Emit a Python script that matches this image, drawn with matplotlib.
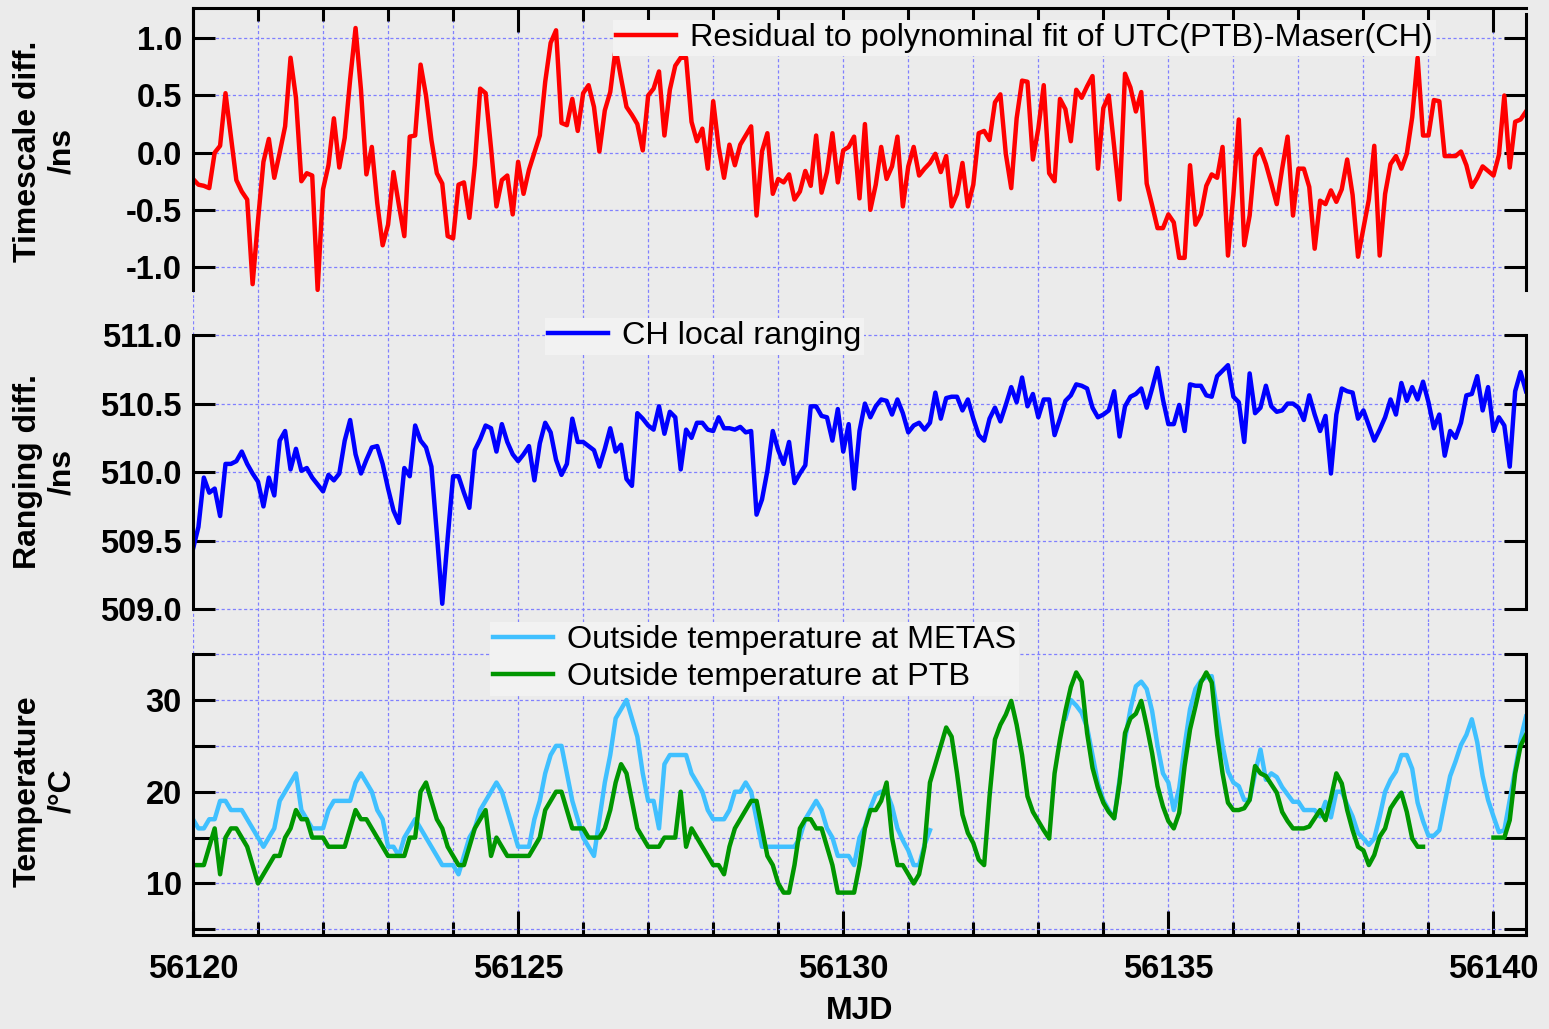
import numpy as np
import matplotlib
matplotlib.use("Agg")
import matplotlib.pyplot as plt
from matplotlib.ticker import MultipleLocator, FixedLocator, FuncFormatter

plt.rcParams['font.family'] = ['Liberation Sans', 'DejaVu Sans']
plt.rcParams['axes.unicode_minus'] = False

nan = np.nan

# ---------------- data (2-hourly samples starting at MJD 56120.0) ----------------
mjd_start = 56120.0
step_hours = 2.0

residual = [
    -0.23, -0.28, -0.29, -0.31, 0.00, 0.06, 0.52, 0.14, -0.24, -0.34,
    -0.41, -1.15, -0.59, -0.08, 0.12, -0.22, 0.00, 0.23, 0.83, 0.48,
    -0.25, -0.18, -0.20, -1.20, -0.32, -0.11, 0.30, -0.13, 0.13, 0.64,
    1.09, 0.55, -0.19, 0.05, -0.44, -0.81, -0.63, -0.17, -0.46, -0.73,
    0.14, 0.15, 0.77, 0.50, 0.11, -0.18, -0.27, -0.73, -0.75, -0.28,
    -0.26, -0.57, -0.11, 0.56, 0.52, 0.04, -0.47, -0.24, -0.20, -0.54,
    -0.08, -0.36, -0.15, 0.00, 0.15, 0.62, 0.96, 1.07, 0.26, 0.24,
    0.47, 0.19, 0.52, 0.59, 0.40, 0.01, 0.37, 0.53, 0.91, 0.65,
    0.40, 0.33, 0.25, 0.02, 0.50, 0.56, 0.71, 0.15, 0.55, 0.76,
    0.83, 0.83, 0.27, 0.10, 0.21, -0.14, 0.45, 0.05, -0.22, 0.07,
    -0.11, 0.07, 0.15, 0.23, -0.55, 0.01, 0.17, -0.36, -0.23, -0.26,
    -0.19, -0.41, -0.34, -0.16, -0.29, 0.15, -0.35, -0.17, 0.17, -0.26,
    0.02, 0.05, 0.14, -0.40, 0.25, -0.50, -0.28, 0.05, -0.23, -0.12,
    0.14, -0.47, -0.12, 0.05, -0.20, -0.14, -0.09, -0.01, -0.17, -0.03,
    -0.47, -0.36, -0.09, -0.47, -0.28, 0.17, 0.19, 0.11, 0.44, 0.51,
    -0.01, -0.31, 0.30, 0.63, 0.62, -0.06, 0.21, 0.59, -0.18, -0.25,
    0.47, 0.38, 0.10, 0.55, 0.48, 0.58, 0.67, -0.14, 0.39, 0.50,
    0.05, -0.41, 0.69, 0.57, 0.36, 0.53, -0.27, -0.46, -0.66, -0.66,
    -0.54, -0.61, -0.92, -0.92, -0.11, -0.63, -0.54, -0.29, -0.19, -0.22,
    0.05, -0.90, -0.37, 0.29, -0.81, -0.55, -0.03, 0.03, -0.10, -0.27,
    -0.45, -0.14, 0.14, -0.55, -0.14, -0.14, -0.30, -0.84, -0.42, -0.45,
    -0.33, -0.43, -0.32, -0.06, -0.37, -0.91, -0.66, -0.41, 0.06, -0.90,
    -0.36, -0.10, -0.03, -0.14, -0.01, 0.31, 0.83, 0.15, 0.15, 0.46,
    0.45, -0.03, -0.03, -0.03, 0.01, -0.11, -0.30, -0.22, -0.12, -0.16,
    -0.20, -0.02, 0.50, -0.13, 0.27, 0.29, 0.36,
]

ranging = [
    509.44, 509.60, 509.96, 509.85, 509.88, 509.68, 510.06, 510.06, 510.08, 510.15,
    510.06, 509.99, 509.93, 509.75, 509.96, 509.83, 510.23, 510.30, 510.02, 510.17,
    510.01, 510.03, 509.96, 509.91, 509.86, 509.98, 509.94, 509.99, 510.23, 510.38,
    510.13, 509.99, 510.09, 510.18, 510.19, 510.06, 509.88, 509.72, 509.63, 510.03,
    509.97, 510.34, 510.23, 510.18, 510.04, 509.55, 509.04, 509.52, 509.97, 509.97,
    509.85, 509.74, 510.16, 510.24, 510.34, 510.32, 510.15, 510.35, 510.22, 510.13,
    510.08, 510.13, 510.19, 509.94, 510.21, 510.36, 510.29, 510.09, 509.98, 510.06,
    510.39, 510.22, 510.22, 510.19, 510.16, 510.04, 510.17, 510.32, 510.15, 510.20,
    509.95, 509.90, 510.43, 510.39, 510.34, 510.31, 510.48, 510.28, 510.44, 510.40,
    510.02, 510.31, 510.25, 510.36, 510.36, 510.31, 510.30, 510.40, 510.32, 510.32,
    510.31, 510.33, 510.29, 510.30, 509.69, 509.80, 510.01, 510.30, 510.16, 510.06,
    510.22, 509.92, 509.99, 510.05, 510.48, 510.48, 510.41, 510.40, 510.23, 510.46,
    510.15, 510.35, 509.88, 510.30, 510.50, 510.40, 510.48, 510.53, 510.52, 510.42,
    510.53, 510.43, 510.29, 510.34, 510.36, 510.31, 510.36, 510.58, 510.39, 510.54,
    510.55, 510.55, 510.45, 510.53, 510.39, 510.27, 510.23, 510.39, 510.47, 510.37,
    510.49, 510.62, 510.51, 510.69, 510.48, 510.57, 510.40, 510.53, 510.53, 510.27,
    510.39, 510.52, 510.56, 510.64, 510.63, 510.61, 510.47, 510.40, 510.42, 510.45,
    510.59, 510.26, 510.48, 510.55, 510.57, 510.61, 510.47, 510.61, 510.76, 510.53,
    510.35, 510.35, 510.49, 510.30, 510.64, 510.63, 510.63, 510.56, 510.55, 510.70,
    510.74, 510.78, 510.55, 510.51, 510.22, 510.72, 510.43, 510.47, 510.63, 510.48,
    510.44, 510.45, 510.50, 510.50, 510.47, 510.38, 510.56, 510.42, 510.30, 510.41,
    509.99, 510.42, 510.61, 510.59, 510.58, 510.39, 510.45, 510.34, 510.23, 510.31,
    510.40, 510.53, 510.42, 510.65, 510.52, 510.62, 510.53, 510.66, 510.51, 510.32,
    510.42, 510.12, 510.30, 510.25, 510.36, 510.56, 510.57, 510.70, 510.45, 510.62,
    510.30, 510.40, 510.34, 510.04, 510.59, 510.73, 510.59,
]

temp_metas = [
    17, 16, 16, 17, 17, 19, 19, 18, 18, 18,
    17, 16, 15, 14, 15, 16, 19, 20, 21, 22,
    18, 17, 16, 16, 16, 18, 19, 19, 19, 19,
    21, 22, 21, 20, 18, 17, 14, 14, 13, 15,
    16, 17, 16, 15, 14, 13, 12, 12, 12, 11,
    13, 15, 16, 18, 19, 20, 21, 20, 18, 16,
    14, 14, 14, 17, 19, 22, 24, 25, 25, 22,
    19, 17, 15, 14, 13, 17, 21, 24, 28, 29,
    30, 28, 26, 22, 19, 19, 16, 23, 24, 24,
    24, 24, 22, 21, 20, 18, 17, 17, 17, 18,
    20, 20, 21, 20, 17, 14, 14, 14, 14, 14,
    14, 14, 15, 17, 18, 19, 18, 16, 15, 13,
    13, 13, 12, 15, 16.2, 18.2, 19.7, 20, 20, 18.4,
    16, 14.7, 13.6, 12, 12, 14.2, 15.8, nan, nan, nan,
    nan, nan, nan, nan, nan, nan, nan, nan, nan, nan,
    nan, nan, nan, nan, nan, nan, nan, nan, nan, nan,
    nan, 28, 30, 29.4, 28.6, 27, 24, 20.9, 19.1, 18,
    17.1, 21.4, 25.7, 29, 31.5, 32, 31.2, 28.8, 25, 22,
    21, 18, 20.4, 25, 29, 31.2, 32.1, 32.5, 32.6, 28.8,
    25, 22.2, 21, 20.6, 19.1, 19.1, 22, 24.6, 21.3, 22,
    21.6, 20.5, 19.7, 18.9, 18.9, 18, 18, 18, 17.3, 18.9,
    17.2, 20, 20, 18.6, 17.3, 15.5, 14.9, 14.2, 14.9, 17.3,
    20, 21.3, 22.2, 24, 24, 22.5, 18.8, 16.8, 15.2, 15.2,
    15.8, 18.8, 21.7, 23.3, 25.1, 26.2, 27.9, 25.4, 21.7, 19.1,
    17.3, 15.6, 15.8, 19.1, 22.4, 25.7, 28.2,
]

temp_ptb = [
    12, 12, 12, 14, 16, 11, 15, 16, 16, 15,
    14, 12, 10, 11, 12, 13, 13, 15, 16, 18,
    17, 17, 15, 15, 15, 14, 14, 14, 14, 16,
    18, 17, 17, 16, 15, 14, 13, 13, 13, 13,
    15, 15, 20, 21, 19, 17, 16, 14, 13, 12,
    12, 14, 16, 17, 18, 13, 15, 14, 13, 13,
    13, 13, 13, 14, 15, 18, 19, 20, 20, 18,
    16, 16, 16, 15, 15, 15, 16, 18, 21, 23,
    22, 19, 16, 15, 14, 14, 14, 15, 15, 15,
    20, 14, 16, 15, 14, 13, 12, 12, 11, 14,
    16, 17, 18, 19, 19, 16, 13, 12, 10, 9,
    9, 12, 16, 17, 17, 16, 16, 14, 12, 9,
    9, 9, 9, 12, 16, 18, 18, 19, 21, 15,
    12, 12, 11, 10, 11, 14, 21, 23, 25, 27,
    26, 22, 17.5, 15.5, 14.4, 12.6, 12, 19.5, 25.7, 27.3,
    28.4, 29.9, 27.3, 24, 19.5, 17.8, 16.8, 15.8, 14.9, 22,
    25.7, 28.8, 31.4, 33, 32, 26.4, 22.6, 20.4, 18.8, 17.8,
    17.1, 21, 26.4, 28, 28.5, 29.9, 27.2, 24.2, 20.6, 18.4,
    16.8, 16, 17.7, 22.8, 26.8, 29.3, 31.9, 33, 31.9, 26.2,
    22, 18.8, 18, 18, 18.2, 19.1, 22.8, 22, 21.7, 20.8,
    19.9, 17.8, 16.8, 16, 16, 16, 16.2, 17.1, 18, 16.9,
    19.3, 22, 20.9, 18, 15.8, 14, 13.6, 12, 13.1, 15.1,
    16, 18.2, 19.1, 19.9, 17.8, 14.9, 14, 14, nan, nan,
    nan, nan, nan, nan, nan, nan, nan, nan, nan, nan,
    15, 15, 15, 16.9, 22, 25, 26.2,
]

label_res = "Residual to polynominal fit of UTC(PTB)-Maser(CH)"
label_rng = "CH local ranging"
label_metas = "Outside temperature at METAS"
label_ptb = "Outside temperature at PTB"

ylabels = ["Timescale diff.\n/ns", "Ranging diff.\n/ns", "Temperature\n/\u00b0C"]
xlabel = "MJD"

res_ticks = [-1.0, -0.5, 0.0, 0.5, 1.0]
rng_ticks = [509.0, 509.5, 510.0, 510.5, 511.0]
tmp_ticks = [5, 10, 15, 20, 25, 30, 35]
tmp_labelled = [10, 20, 30]

# ---------------- styling ----------------
BG = '#ebebeb'
LEG_BG = '#f2f2f2'
GRID = '#8080ff'
W_PX, H_PX = 1549, 1029
FS_TICK = 23.5
FS_LAB = 23
FS_LEG = 23.3
LW = 3.2

n = len(residual)
mjd = mjd_start + np.arange(n) * step_hours / 24.0

fig = plt.figure(figsize=(W_PX / 100, H_PX / 100), dpi=100, facecolor=BG)


def rect(top_px, bottom_px, left_px=193, right_px=1526):
    return [left_px / W_PX, 1 - bottom_px / H_PX,
            (right_px - left_px) / W_PX, (bottom_px - top_px) / H_PX]


ax1 = fig.add_axes(rect(8, 298))
ax2 = fig.add_axes(rect(298, 622))
ax3 = fig.add_axes(rect(622, 935))

for ax in (ax1, ax2, ax3):
    ax.set_facecolor(BG)
    ax.set_xlim(56120, 56140.5)
    ax.set_axisbelow(True)
    ax.xaxis.set_major_locator(MultipleLocator(5))
    ax.xaxis.set_minor_locator(MultipleLocator(1))
    ax.grid(True, which='both', axis='x', color=GRID, lw=0.9, ls=(0, (2.5, 2)))
    ax.grid(True, which='major', axis='y', color=GRID, lw=0.9, ls=(0, (2.5, 2)))
    for s in ax.spines.values():
        s.set_linewidth(2.2)
        s.set_color('black')
    ax.tick_params(which='both', direction='in', width=2.2, colors='black')
    ax.tick_params(axis='y', which='major', length=16, left=True, right=True,
                   labelsize=FS_TICK, pad=8)
    ax.tick_params(axis='x', which='major', length=17)
    ax.tick_params(axis='x', which='minor', length=9.5)

fmt1 = FuncFormatter(lambda v, p: f"{v:.1f}")

# Panel 1
ax1.plot(mjd, residual, color='#ff0000', lw=LW, label=label_res)
ax1.set_ylim(-1.271, 1.265)
ax1.yaxis.set_major_locator(FixedLocator(res_ticks))
ax1.yaxis.set_major_formatter(fmt1)
ax1.tick_params(axis='x', which='both', top=True, bottom=False,
                labeltop=False, labelbottom=False)
ax1.spines['bottom'].set_visible(False)
ax1.spines['left'].set_bounds(-1.2, 1.265)
ax1.spines['right'].set_bounds(-1.2, 1.21)

# Panel 2
ax2.plot(mjd, ranging, color='#0000ff', lw=LW, label=label_rng)
ax2.set_ylim(508.907, 511.27)
ax2.yaxis.set_major_locator(FixedLocator(rng_ticks))
ax2.yaxis.set_major_formatter(fmt1)
ax2.tick_params(axis='x', which='both', top=False, bottom=False,
                labeltop=False, labelbottom=False)
ax2.spines['top'].set_visible(False)
ax2.spines['bottom'].set_visible(False)
ax2.spines['left'].set_bounds(509, 511)
ax2.spines['right'].set_bounds(509, 511)

# Panel 3
ax3.plot(mjd, temp_metas, color='#40c0ff', lw=LW, label=label_metas)
ax3.plot(mjd, temp_ptb, color='#009600', lw=LW, label=label_ptb)
ax3.set_ylim(4.38, 38.5)
ax3.yaxis.set_major_locator(FixedLocator(tmp_ticks))
ax3.yaxis.set_major_formatter(
    FuncFormatter(lambda v, p: f"{v:.0f}" if round(v) in tmp_labelled else ""))
ax3.tick_params(axis='x', which='both', top=False, bottom=True,
                labelbottom=True, labelsize=FS_TICK, pad=13.5)
ax3.spines['top'].set_visible(False)
ax3.spines['left'].set_bounds(4.38, 35)
ax3.spines['right'].set_bounds(4.38, 35)
ax3.xaxis.set_major_formatter(FuncFormatter(lambda v, p: f"{v:.0f}"))
ax3.set_xlabel(xlabel, fontsize=FS_LAB, fontweight='bold', labelpad=8)

for ax in (ax1, ax2, ax3):
    for lbl in ax.get_yticklabels() + ax.get_xticklabels():
        lbl.set_fontweight('bold')

leg_kw = dict(loc='upper left', borderaxespad=0, frameon=True, fancybox=False,
              facecolor=LEG_BG, edgecolor='none', framealpha=1,
              handlelength=1.85, handletextpad=0.42, borderpad=0.1,
              labelspacing=0.22, prop={'size': FS_LEG, 'weight': 'normal'})
ax1.legend(bbox_to_anchor=(0.3151, 0.9586), **leg_kw)
ax2.legend(bbox_to_anchor=(0.2641, 0.938), **leg_kw)
ax3.legend(bbox_to_anchor=(0.2228, 1.0), **leg_kw)

# y-axis titles (two centred lines, rotated)
for txt, yc in zip(ylabels, [151, 472, 791]):
    fig.text(45 / W_PX, 1 - yc / H_PX, txt, rotation=90, ha='center',
             va='center', multialignment='center', fontsize=FS_LAB,
             fontweight='bold')

fig.savefig('out.png', dpi=100, facecolor=BG)
